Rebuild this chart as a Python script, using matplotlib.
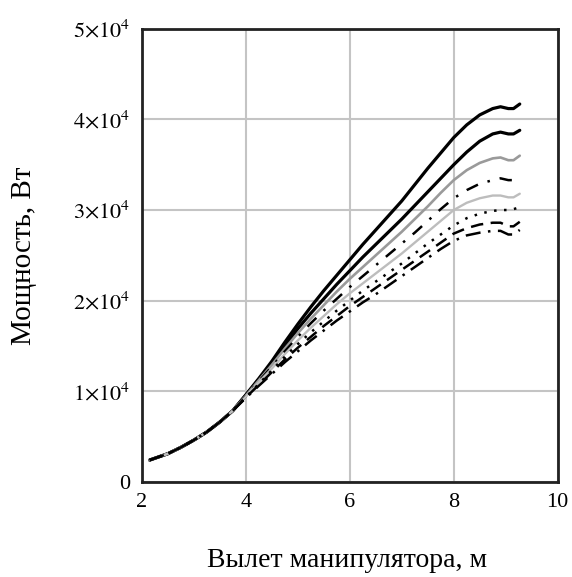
import numpy as np
import matplotlib
matplotlib.use("Agg")
import matplotlib.pyplot as plt
from matplotlib.ticker import FuncFormatter

plt.rcParams["font.family"] = ["Liberation Serif", "DejaVu Serif"]
plt.rcParams["mathtext.fontset"] = "stix"

# вылет манипулятора, м
reach = [2.15, 2.5, 2.75, 3.0, 3.25, 3.5, 3.75, 4.0, 4.25, 4.5, 4.75, 5.0, 5.25, 5.5,
         5.75, 6.0, 6.25, 6.5, 6.75, 7.0, 7.25, 7.5, 7.75, 8.0, 8.25, 8.5, 8.75, 8.9,
         9.05, 9.15, 9.27]

# мощность, x10^4 Вт (общий начальный участок до 3.75 м)
start = [0.24, 0.31, 0.38, 0.46, 0.55, 0.66, 0.785]
p1 = start + [0.96, 1.14, 1.33, 1.54, 1.74, 1.93, 2.11, 2.28, 2.45, 2.62, 2.78, 2.94, 3.10,
              3.28, 3.46, 3.63, 3.80, 3.94, 4.05, 4.12, 4.14, 4.12, 4.12, 4.17]
p2 = start + [0.955, 1.13, 1.31, 1.50, 1.69, 1.86, 2.02, 2.18, 2.33, 2.48, 2.62, 2.76, 2.90,
              3.05, 3.20, 3.35, 3.50, 3.64, 3.76, 3.84, 3.86, 3.84, 3.84, 3.88]
p3 = start + [0.95, 1.12, 1.29, 1.47, 1.64, 1.80, 1.95, 2.10, 2.24, 2.37, 2.50, 2.63, 2.76,
              2.90, 3.04, 3.19, 3.33, 3.44, 3.52, 3.57, 3.58, 3.55, 3.55, 3.60]
p4 = start + [0.945, 1.11, 1.27, 1.44, 1.60, 1.75, 1.89, 2.02, 2.15, 2.27, 2.39, 2.51, 2.63,
              2.75, 2.88, 3.01, 3.13, 3.22, 3.29, 3.33, 3.35, 3.33, 3.33, 3.37]
p5 = start + [0.94, 1.10, 1.25, 1.41, 1.56, 1.70, 1.83, 1.96, 2.08, 2.19, 2.30, 2.41, 2.52,
              2.64, 2.76, 2.88, 3.00, 3.08, 3.13, 3.16, 3.16, 3.14, 3.14, 3.18]
p6 = start + [0.935, 1.08, 1.23, 1.38, 1.52, 1.65, 1.77, 1.89, 2.00, 2.11, 2.21, 2.31, 2.41,
              2.52, 2.63, 2.73, 2.83, 2.91, 2.96, 2.99, 3.00, 3.00, 3.01, 3.03]
p7 = start + [0.93, 1.07, 1.21, 1.35, 1.48, 1.60, 1.72, 1.83, 1.94, 2.04, 2.14, 2.24, 2.34,
              2.44, 2.54, 2.64, 2.74, 2.80, 2.84, 2.86, 2.86, 2.82, 2.82, 2.87]
p8 = start + [0.925, 1.06, 1.19, 1.32, 1.44, 1.56, 1.67, 1.78, 1.88, 1.98, 2.07, 2.17, 2.27,
              2.37, 2.47, 2.57, 2.66, 2.72, 2.75, 2.77, 2.77, 2.73, 2.73, 2.78]

series = [
    (p1, dict(color="black", lw=2.3, ls="-")),
    (p2, dict(color="black", lw=2.3, ls="-")),
    (p3, dict(color="#9a9a9a", lw=1.9, ls="-")),
    (p4, dict(color="black", lw=1.8, ls=(0, (5, 4, 1, 4)))),
    (p5, dict(color="#bdbdbd", lw=1.7, ls="-")),
    (p6, dict(color="black", lw=1.8, ls=(0, (1, 3)))),
    (p7, dict(color="black", lw=1.8, ls=(0, (5, 3)))),
    (p8, dict(color="black", lw=1.8, ls=(0, (6, 3, 1, 3)))),
]

fig = plt.figure(figsize=(5.72, 5.77), dpi=100)
ax = fig.add_axes([0.248, 0.165, 0.727, 0.785])

for vals, style in series:
    ax.plot(reach, np.array(vals) * 1e4, solid_capstyle="round", **style)

ax.set_xlim(2, 10)
ax.set_ylim(0, 5e4)
ax.set_xticks([2, 4, 6, 8, 10])
ax.set_yticks([0, 1e4, 2e4, 3e4, 4e4, 5e4])


def sci(v, pos):
    if v == 0:
        return "0"
    return r"$%d{\times}10^{4}$" % round(v / 1e4)


ax.yaxis.set_major_formatter(FuncFormatter(sci))
ax.tick_params(length=0, labelsize=16, colors="black")
ax.tick_params(axis="y", pad=8)
ax.tick_params(axis="x", pad=8)

ax.grid(True, color="#c4c4c4", lw=1.5)
ax.set_axisbelow(True)
for s in ax.spines.values():
    s.set_linewidth(2)
    s.set_color("#222222")

ax.set_xlabel("Вылет манипулятора, м", fontsize=20)
ax.set_ylabel("Мощность, Вт", fontsize=21)
ax.xaxis.set_label_coords(0.493, -0.146)
ax.yaxis.set_label_coords(-0.252, 0.50)

fig.savefig("out.png", dpi=100)
